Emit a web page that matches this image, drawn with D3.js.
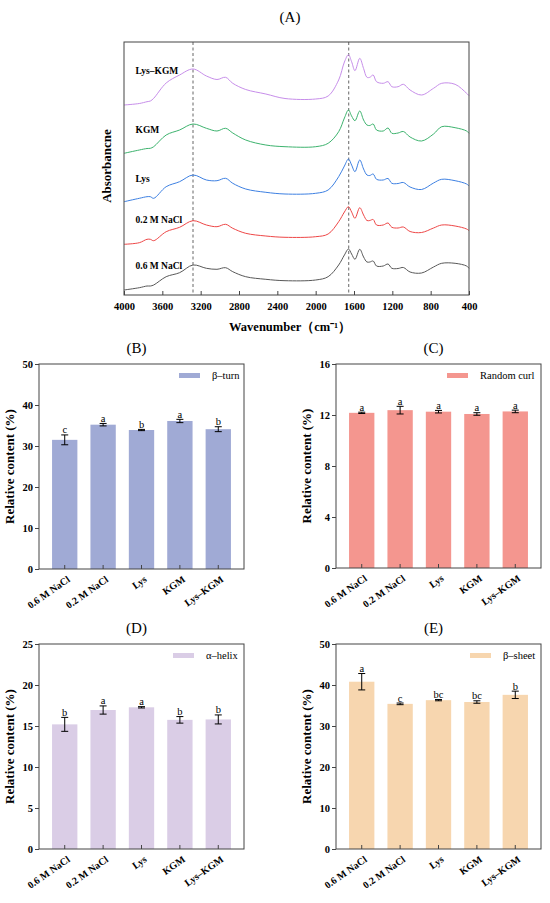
<!DOCTYPE html>
<html><head><meta charset="utf-8">
<script src="https://cdn.jsdelivr.net/npm/d3@7/dist/d3.min.js"></script>
<style>body{margin:0;background:#fff}svg{display:block}text{font-family:"Liberation Serif","Times New Roman",serif}</style>
</head><body><svg id="c" width="550" height="903"></svg>
<script>
// ---------- Panel A data (FTIR spectra, arbitrary absorbance units incl. stacking offset) ----------
const wavenumbers = [4000,3840,3760,3725,3690,3560,3420,3280,3140,3030,2940,2865,2730,2520,2320,2000,1870,1760,1700,1658,1625,1590,1540,1500,1465,1435,1400,1365,1295,1245,1205,1140,1085,1015,895,770,685,545,425,400];
const spLysKGM = [190,191.5,193.3,194,196.7,212,220,226,219,215.5,217.7,211.7,205.5,201,196.5,196,199,215,233,240.3,233.3,224.3,236.7,226.5,217.7,217.7,220,213.3,211.7,213.3,208.3,208.3,210.7,205,200,206.7,211.7,210.7,201.7,199.3];
const spKGM = [141.7,145,146.5,146.7,148.3,160,165,171,166.7,164,166.7,162,155,150,148.3,148.3,151.7,163.3,177,185,179,174.3,184,175,170,169.5,171,165,164,167,161.7,162,163.5,158,154,161,168.3,167.3,164,161.7];
const spLys = [93.3,96.7,98.3,98.3,96.7,108.3,113.3,120,115,114.3,116.7,111.7,106,102.7,101,101.7,105,118.3,129,136,130,123.3,135,126,120,119.5,121,115.7,115,116.5,111.7,111.5,112.5,108,105.5,112,115.7,114.3,111,109];
const sp02 = [50.7,52.3,55.7,55.7,54.3,63.3,67.7,74.3,70,68.3,70.7,66.7,61.7,59,57.7,58.3,61,73.3,83,88.3,83,76.7,87.3,80,74.5,74.5,75.5,70,70,72,67.7,67,68,63.5,62.5,67,70,69,66,64.3];
const sp06 = [5,7.3,9,9,10,18.3,22.3,30,26.7,25.7,27.3,23.3,18.3,15.7,14.3,15,18.3,30,40,46,41,35.7,45.7,38,33,33,34,29,29,31,26.7,26.5,27.5,23,22,28,31.7,31.7,29,26.7];
const spectraNames = ["Lys–KGM","KGM","Lys","0.2 M NaCl","0.6 M NaCl"];
const spectraColors = ["#C78EEA","#3DB36E","#3D80E2","#EE4747","#585858"];
const markerLines = [3280, 1655];
const xTicksA = [4000,3600,3200,2800,2400,2000,1600,1200,800,400];

// ---------- Bar panels data ----------
const groups = ["0.6 M NaCl","0.2 M NaCl","Lys","KGM","Lys–KGM"];
const betaTurn = [31.5,35.2,33.9,36.1,34.1];
const betaTurnErr = [1.2,0.3,0.15,0.4,0.6];
const betaTurnSig = ["c","a","b","a","b"];
const randomCurl = [12.17,12.38,12.26,12.08,12.28];
const randomCurlErr = [0.05,0.3,0.1,0.1,0.1];
const randomCurlSig = ["a","a","a","a","a"];
const alphaHelix = [15.2,16.95,17.28,15.75,15.8];
const alphaHelixErr = [0.85,0.5,0.08,0.4,0.55];
const alphaHelixSig = ["b","a","a","b","b"];
const betaSheet = [40.8,35.4,36.3,35.85,37.6];
const betaSheetErr = [2.0,0.2,0.15,0.3,0.9];
const betaSheetSig = ["a","c","bc","bc","b"];

const svg = d3.select("#c");
const axisCol = "#444";

// ---------- Panel A ----------
(function(){
  const L=124,R=469,T=42,B=295;
  const x = d3.scaleLinear().domain([4000,400]).range([L,R]);
  const y = d3.scaleLinear().domain([0,253]).range([B,T]);
  const g = svg.append("g");
  g.append("text").attr("x",290).attr("y",22).attr("text-anchor","middle").attr("font-size",15).text("(A)");
  markerLines.forEach(w=>{
    g.append("line").attr("x1",x(w)).attr("x2",x(w)).attr("y1",T).attr("y2",B)
      .attr("stroke","#555").attr("stroke-width",0.9).attr("stroke-dasharray","3,2.5");
  });
  const series=[spLysKGM,spKGM,spLys,sp02,sp06];
  const line = d3.line().x((d,i)=>x(wavenumbers[i])).y(d=>y(d)).curve(d3.curveCatmullRom.alpha(0.5));
  series.forEach((s,k)=>{
    g.append("path").datum(s).attr("d",line).attr("fill","none").attr("stroke",spectraColors[k]).attr("stroke-width",1);
  });
  const labelY=[71,130,179,220,266];
  spectraNames.forEach((n,k)=>{
    g.append("text").attr("x",x(3880)).attr("y",labelY[k]).attr("dy","0.35em").attr("font-size",9.5).attr("font-weight","bold").text(n);
  });
  g.append("rect").attr("x",L).attr("y",T).attr("width",R-L).attr("height",B-T).attr("fill","none").attr("stroke",axisCol).attr("stroke-width",1);
  const ax = g.append("g").attr("transform",`translate(0,${B})`)
    .call(d3.axisBottom(x).tickValues(xTicksA).tickFormat(d3.format("d")).tickSizeInner(-4).tickSizeOuter(0).tickPadding(8));
  ax.select(".domain").remove();
  ax.selectAll("line").attr("stroke",axisCol);
  ax.selectAll("text").attr("font-size",10.5).attr("font-weight","bold").attr("font-family","Liberation Serif").attr("fill","#000");
  g.append("text").attr("x",290).attr("y",331).attr("text-anchor","middle").attr("font-size",12.5).attr("font-weight","bold").text("Wavenumber（cm⁻¹）");
  g.append("text").attr("transform",`translate(111,166) rotate(-90)`).attr("text-anchor","middle").attr("font-size",13).attr("font-weight","bold").text("Absorbancne");
})();

// ---------- Bar panel factory ----------
function barPanel(opt){
  const {L,R,T,B,title,titleY,domain,ticks,vals,errs,sig,color,legend,legendX} = opt;
  const g = svg.append("g");
  const x = d3.scaleBand().domain(groups).range([L,R]).padding(0.34);
  const y = d3.scaleLinear().domain(domain).range([B,T]);
  g.append("text").attr("x",(L+R)/2-5).attr("y",titleY).attr("text-anchor","middle").attr("font-size",15).text(title);
  g.selectAll("rect.bar").data(vals).enter().append("rect").attr("class","bar")
    .attr("x",(d,i)=>x(groups[i])).attr("width",x.bandwidth())
    .attr("y",d=>y(d)).attr("height",d=>B-y(d)).attr("fill",color);
  vals.forEach((v,i)=>{
    const cx = x(groups[i])+x.bandwidth()/2;
    const y1=y(v+errs[i]), y0=y(v-errs[i]);
    g.append("line").attr("x1",cx).attr("x2",cx).attr("y1",y1).attr("y2",y0).attr("stroke","#000").attr("stroke-width",1);
    [y1,y0].forEach(yy=>g.append("line").attr("x1",cx-3.5).attr("x2",cx+3.5).attr("y1",yy).attr("y2",yy).attr("stroke","#000").attr("stroke-width",1));
    g.append("text").attr("x",cx).attr("y",y1-1.5).attr("text-anchor","middle").attr("font-size",10.5).text(sig[i]);
  });
  g.append("rect").attr("x",L).attr("y",T).attr("width",R-L).attr("height",B-T).attr("fill","none").attr("stroke",axisCol).attr("stroke-width",1);
  const ay = g.append("g").attr("transform",`translate(${L},0)`).call(d3.axisLeft(y).tickValues(ticks).tickSizeInner(4).tickSizeOuter(0).tickPadding(2));
  ay.select(".domain").remove();
  ay.selectAll("line").attr("stroke",axisCol);
  ay.selectAll("text").attr("font-size",10.5).attr("font-weight","bold").attr("font-family","Liberation Serif").attr("fill","#000");
  const axb = g.append("g").attr("transform",`translate(0,${B})`).call(d3.axisBottom(x).tickSizeInner(-4).tickSizeOuter(0).tickFormat(""));
  axb.select(".domain").remove();
  axb.selectAll("line").attr("stroke",axisCol);
  groups.forEach(n=>{
    const cx = x(n)+x.bandwidth()/2;
    g.append("text").attr("transform",`translate(${cx+4},${B+9}) rotate(-35)`).attr("text-anchor","end").attr("dy","0.35em")
      .attr("font-size",10).attr("font-weight","bold").text(n);
  });
  g.append("text").attr("transform",`translate(${L-25},${(T+B)/2}) rotate(-90)`).attr("text-anchor","middle")
    .attr("font-size",13).attr("font-weight","bold").text("Relative content (%)");
  const ly = T+11.5;
  g.append("rect").attr("x",legendX).attr("y",ly-2.5).attr("width",21).attr("height",5).attr("fill",color);
  g.append("text").attr("x",legendX+33).attr("y",ly).attr("dy","0.35em").attr("font-size",10.5).text(legend);
}

barPanel({L:39,R:244,T:364,B:569,title:"(B)",titleY:353,domain:[0,50],ticks:[0,10,20,30,40,50],
  vals:betaTurn,errs:betaTurnErr,sig:betaTurnSig,color:"#A0AAD5",legend:"β–turn",legendX:179});
barPanel({L:336,R:541,T:364,B:568,title:"(C)",titleY:353,domain:[0,16],ticks:[0,4,8,12,16],
  vals:randomCurl,errs:randomCurlErr,sig:randomCurlSig,color:"#F4968F",legend:"Random curl",legendX:447});
barPanel({L:39,R:244,T:644,B:849,title:"(D)",titleY:633,domain:[0,25],ticks:[0,5,10,15,20,25],
  vals:alphaHelix,errs:alphaHelixErr,sig:alphaHelixSig,color:"#DACDE6",legend:"α–helix",legendX:173});
barPanel({L:336,R:541,T:644,B:849,title:"(E)",titleY:633,domain:[0,50],ticks:[0,10,20,30,40,50],
  vals:betaSheet,errs:betaSheetErr,sig:betaSheetSig,color:"#F7D6AF",legend:"β–sheet",legendX:470});
</script></body></html>
